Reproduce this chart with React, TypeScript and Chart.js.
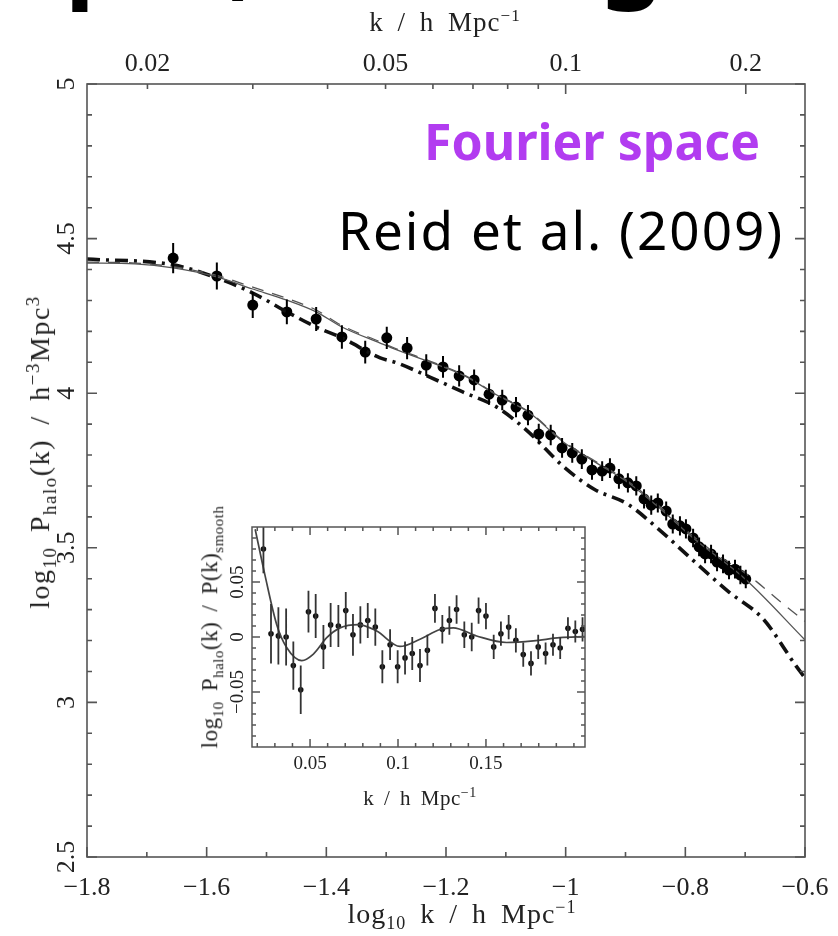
import React, { useEffect, useRef } from 'react';
import { Chart, registerables } from 'chart.js';
Chart.register(...registerables);

// ---------------- main panel data (log10 k, log10 P) ----------------
const mainLogK = [-1.656, -1.583, -1.523, -1.466, -1.417, -1.374, -1.335, -1.299, -1.265, -1.233, -1.205, -1.178, -1.153, -1.128, -1.106, -1.083, -1.063, -1.045, -1.025, -1.006, -0.989, -0.973, -0.956, -0.939, -0.926, -0.911, -0.896, -0.882, -0.869, -0.857, -0.846, -0.832, -0.821, -0.809, -0.799, -0.787, -0.777, -0.767, -0.757, -0.747, -0.737, -0.727, -0.717, -0.708, -0.699];
const mainLogP = [4.437, 4.379, 4.285, 4.263, 4.240, 4.182, 4.133, 4.179, 4.146, 4.091, 4.085, 4.056, 4.043, 3.997, 3.978, 3.955, 3.929, 3.868, 3.865, 3.823, 3.807, 3.787, 3.752, 3.748, 3.758, 3.723, 3.710, 3.700, 3.658, 3.638, 3.645, 3.619, 3.577, 3.571, 3.561, 3.532, 3.503, 3.480, 3.480, 3.454, 3.448, 3.428, 3.431, 3.412, 3.399];
const mainErr = [0.049, 0.044, 0.042, 0.040, 0.039, 0.038, 0.037, 0.036, 0.036, 0.035, 0.035, 0.034, 0.034, 0.034, 0.033, 0.033, 0.033, 0.033, 0.033, 0.032, 0.032, 0.032, 0.032, 0.032, 0.032, 0.032, 0.031, 0.031, 0.031, 0.031, 0.031, 0.031, 0.031, 0.031, 0.031, 0.030, 0.030, 0.030, 0.030, 0.030, 0.030, 0.030, 0.030, 0.030, 0.030];

const solidLogK = [-1.8, -1.72, -1.656, -1.583, -1.523, -1.466, -1.417, -1.374, -1.31, -1.282, -1.227, -1.172, -1.115, -1.06, -1.004, -0.948, -0.897, -0.841, -0.787, -0.7, -0.6];
const solidLogP = [4.421, 4.418, 4.405, 4.376, 4.337, 4.301, 4.263, 4.214, 4.162, 4.140, 4.101, 4.059, 3.994, 3.936, 3.842, 3.774, 3.713, 3.625, 3.532, 3.399, 3.202];

const dashedLogK = [-1.8, -1.72, -1.656, -1.583, -1.523, -1.466, -1.417, -1.374, -1.31, -1.282, -1.227, -1.172, -1.115, -1.06, -1.004, -0.948, -0.897, -0.841, -0.787, -0.75, -0.7, -0.68, -0.642, -0.6];
const dashedLogP = [4.424, 4.421, 4.409, 4.381, 4.343, 4.307, 4.269, 4.219, 4.166, 4.143, 4.104, 4.061, 3.996, 3.938, 3.845, 3.777, 3.717, 3.630, 3.538, 3.482, 3.418, 3.389, 3.327, 3.262];

const dashDotLogK = [-1.8, -1.656, -1.583, -1.523, -1.466, -1.417, -1.374, -1.31, -1.282, -1.227, -1.172, -1.115, -1.06, -1.005, -0.953, -0.897, -0.841, -0.784, -0.727, -0.67, -0.615, -0.6];
const dashDotLogP = [4.434, 4.415, 4.373, 4.324, 4.263, 4.214, 4.179, 4.114, 4.098, 4.052, 4.004, 3.955, 3.871, 3.765, 3.690, 3.642, 3.554, 3.454, 3.357, 3.270, 3.118, 3.079];

// ---------------- inset data (k, ratio) ----------------
const insetK = [0.0235, 0.0278, 0.0320, 0.0364, 0.0405, 0.0447, 0.0491, 0.0532, 0.0576, 0.0617, 0.0661, 0.0703, 0.0744, 0.0786, 0.0828, 0.0871, 0.0911, 0.0955, 0.0998, 0.1040, 0.1081, 0.1125, 0.1167, 0.1210, 0.1252, 0.1292, 0.1333, 0.1377, 0.1419, 0.1458, 0.1500, 0.1544, 0.1585, 0.1629, 0.1670, 0.1712, 0.1756, 0.1797, 0.1839, 0.1881, 0.1922, 0.1966, 0.2008, 0.2049];
const insetRatio = [0.080, 0.003, 0.001, 0.000, -0.026, -0.048, 0.023, 0.019, -0.009, 0.011, 0.010, 0.024, 0.002, 0.011, 0.015, 0.009, -0.027, -0.007, -0.027, -0.019, -0.015, -0.026, -0.012, 0.026, 0.007, 0.015, 0.025, 0.002, 0.000, 0.024, 0.019, -0.009, 0.003, 0.009, -0.003, -0.016, -0.024, -0.009, -0.015, -0.007, -0.010, 0.008, 0.005, 0.007];
const insetErr = [0.022, 0.027, 0.026, 0.026, 0.022, 0.022, 0.019, 0.020, 0.020, 0.020, 0.019, 0.017, 0.019, 0.017, 0.016, 0.017, 0.015, 0.014, 0.015, 0.015, 0.015, 0.015, 0.014, 0.013, 0.013, 0.013, 0.013, 0.012, 0.013, 0.012, 0.012, 0.011, 0.011, 0.011, 0.011, 0.011, 0.011, 0.011, 0.010, 0.010, 0.010, 0.010, 0.010, 0.011];

const insetCurveK = [0.0188, 0.0244, 0.0311, 0.0367, 0.0453, 0.0519, 0.0595, 0.0670, 0.0775, 0.0879, 0.1011, 0.1125, 0.1239, 0.1314, 0.1447, 0.1617, 0.1769, 0.1920, 0.2063];
const insetCurveRatio = [0.098, 0.056, 0.011, -0.0095, -0.0214, -0.0155, -0.0006, 0.0083, 0.0113, 0.0054, -0.0086, -0.002, 0.0068, 0.0083, 0.0009, -0.005, -0.0036, -0.0006, 0.0003];

// ---------------- ticks ----------------
const mainXTicks = [-1.8, -1.6, -1.4, -1.2, -1.0, -0.8, -0.6];
const mainXMinor = [-1.7, -1.5, -1.3, -1.1, -0.9, -0.7];
const mainYTicks = [2.5, 3, 3.5, 4, 4.5, 5];
const mainYMinor = [2.6, 2.7, 2.8, 2.9, 3.1, 3.2, 3.3, 3.4, 3.6, 3.7, 3.8, 3.9, 4.1, 4.2, 4.3, 4.4, 4.6, 4.7, 4.8, 4.9];
const topKLabels = [0.02, 0.05, 0.1, 0.2];
const topKMajor = [0.1, 0.2];
const topKMinor = [0.02, 0.03, 0.04, 0.05, 0.06, 0.07, 0.08, 0.09];

const insetXTicks = [0.05, 0.1, 0.15];
const insetXMinor = [0.02, 0.03, 0.04, 0.06, 0.07, 0.08, 0.09, 0.11, 0.12, 0.13, 0.14, 0.16, 0.17, 0.18, 0.19, 0.2];
const insetYTicks = [-0.05, 0, 0.05];
const insetYMinor = [-0.09, -0.08, -0.07, -0.06, -0.04, -0.03, -0.02, -0.01, 0.01, 0.02, 0.03, 0.04, 0.06, 0.07, 0.08, 0.09];

const SERIF = '"Liberation Serif", "DejaVu Serif", serif';
const INK = '#222';
const minus = (s: string) => s.replace('-', '\u2212');

const pts = (xs: number[], ys: number[]) => xs.map((x, i) => ({ x, y: ys[i] }));

const fixX = (h: number) => (s: any) => { s.height = h; s.paddingLeft = 0; s.paddingRight = 0; };
const fixY = (w: number) => (s: any) => { s.width = w; s.paddingTop = 0; s.paddingBottom = 0; };

function framePlugin(f: any) {
  return {
    id: 'frame',
    afterDraw(chart: any) {
      const { ctx, chartArea: a, scales } = chart;
      const xs = scales.x;
      const ys = scales.y;
      ctx.save();
      ctx.strokeStyle = f.color;
      ctx.lineWidth = f.lineWidth;
      ctx.strokeRect(a.left, a.top, a.right - a.left, a.bottom - a.top);
      ctx.beginPath();
      const bottomTick = (v: number, len: number) => {
        const p = xs.getPixelForValue(v);
        ctx.moveTo(p, a.bottom); ctx.lineTo(p, a.bottom - len);
      };
      const topTick = (v: number, len: number) => {
        const p = xs.getPixelForValue(v);
        ctx.moveTo(p, a.top); ctx.lineTo(p, a.top + len);
      };
      const sideTick = (v: number, len: number) => {
        const p = ys.getPixelForValue(v);
        ctx.moveTo(a.left, p); ctx.lineTo(a.left + len, p);
        ctx.moveTo(a.right, p); ctx.lineTo(a.right - len, p);
      };
      f.xMajor.forEach((v: number) => bottomTick(v, f.majorLen));
      f.xMinor.forEach((v: number) => bottomTick(v, f.minorLen));
      f.topMajor.forEach((v: number) => topTick(v, f.majorLen));
      f.topMinor.forEach((v: number) => topTick(v, f.minorLen));
      f.yMajor.forEach((v: number) => sideTick(v, f.majorLen));
      f.yMinor.forEach((v: number) => sideTick(v, f.minorLen));
      ctx.stroke();
      ctx.fillStyle = INK;
      ctx.font = f.yFont;
      ctx.textAlign = 'center';
      ctx.textBaseline = 'middle';
      f.yMajor.forEach((v: number) => {
        const p = ys.getPixelForValue(v);
        ctx.save();
        ctx.translate(f.yLabelX, p);
        ctx.rotate(-Math.PI / 2);
        ctx.fillText(f.yFmt(v), 0, 0);
        ctx.restore();
      });
      ctx.restore();
    },
  };
}

function errorBarPlugin(xsArr: number[], ysArr: number[], errs: number[], width: number, color: string) {
  return {
    id: 'errbars',
    afterDatasetsDraw(chart: any) {
      const { ctx, chartArea: a, scales } = chart;
      ctx.save();
      ctx.beginPath();
      ctx.rect(a.left, a.top, a.right - a.left, a.bottom - a.top);
      ctx.clip();
      ctx.strokeStyle = color;
      ctx.lineWidth = width;
      ctx.beginPath();
      xsArr.forEach((x, i) => {
        const px = scales.x.getPixelForValue(x);
        ctx.moveTo(px, scales.y.getPixelForValue(ysArr[i] + errs[i]));
        ctx.lineTo(px, scales.y.getPixelForValue(ysArr[i] - errs[i]));
      });
      ctx.stroke();
      ctx.restore();
    },
  };
}

export default function App() {
  const mainRef = useRef<HTMLCanvasElement>(null);
  const insetRef = useRef<HTMLCanvasElement>(null);

  useEffect(() => {
    const main = new Chart(mainRef.current as HTMLCanvasElement, {
      type: 'scatter',
      data: {
        datasets: [
          { type: 'line', data: pts(solidLogK, solidLogP), borderColor: '#555', borderWidth: 1.3, pointRadius: 0, cubicInterpolationMode: 'monotone', fill: false } as any,
          { type: 'line', data: pts(dashedLogK, dashedLogP), borderColor: '#555', borderWidth: 1.3, borderDash: [12, 9], pointRadius: 0, cubicInterpolationMode: 'monotone', fill: false } as any,
          { type: 'line', data: pts(dashDotLogK, dashDotLogP), borderColor: '#111', borderWidth: 3.6, borderDash: [13, 6, 3, 6], pointRadius: 0, cubicInterpolationMode: 'monotone', fill: false } as any,
          { type: 'scatter', data: pts(mainLogK, mainLogP), pointRadius: 5.5, backgroundColor: '#000', borderColor: '#000', borderWidth: 0 } as any,
        ],
      },
      options: {
        responsive: false,
        animation: false,
        layout: { padding: { left: 0, right: 33, top: 0, bottom: 0 } },
        plugins: { legend: { display: false }, tooltip: { enabled: false } },
        scales: {
          x: {
            type: 'linear', position: 'bottom', min: -1.8, max: -0.6,
            afterBuildTicks: (s: any) => { s.ticks = mainXTicks.map((v) => ({ value: v })); },
            afterFit: fixX(79),
            grid: { display: false, drawTicks: false }, border: { display: false },
            ticks: { autoSkip: false, maxRotation: 0, padding: 16, color: INK, font: { family: SERIF, size: 26 }, callback: (v: any) => minus(String(Math.round(v * 10) / 10)) },
          },
          x2: {
            type: 'linear', position: 'top', min: -1.8, max: -0.6,
            afterBuildTicks: (s: any) => { s.ticks = topKLabels.map((k) => ({ value: Math.log10(k) })); },
            afterFit: fixX(84),
            grid: { display: false, drawTicks: false }, border: { display: false },
            ticks: { autoSkip: false, maxRotation: 0, padding: 4, color: INK, font: { family: SERIF, size: 26 }, callback: (v: any) => String(topKLabels.find((k) => Math.abs(Math.log10(k) - v) < 1e-6)) },
          },
          y: {
            type: 'linear', min: 2.5, max: 5,
            afterFit: fixY(87),
            grid: { display: false, drawTicks: false }, border: { display: false },
            ticks: { display: false },
          },
        },
      } as any,
      plugins: [
        framePlugin({
          color: '#555', lineWidth: 1.6, majorLen: 10, minorLen: 5,
          xMajor: mainXTicks, xMinor: mainXMinor,
          topMajor: topKMajor.map((k) => Math.log10(k)), topMinor: topKMinor.map((k) => Math.log10(k)),
          yMajor: mainYTicks, yMinor: mainYMinor,
          yLabelX: 67, yFont: `26px ${SERIF}`, yFmt: (v: number) => String(v),
        }),
        errorBarPlugin(mainLogK, mainLogP, mainErr, 2, '#000'),
      ],
    });

    const inset = new Chart(insetRef.current as HTMLCanvasElement, {
      type: 'scatter',
      data: {
        datasets: [
          { type: 'line', data: pts(insetCurveK, insetCurveRatio), borderColor: '#444', borderWidth: 1.7, pointRadius: 0, cubicInterpolationMode: 'monotone', fill: false } as any,
          { type: 'scatter', data: pts(insetK, insetRatio), pointRadius: 2.8, backgroundColor: '#111', borderWidth: 0 } as any,
        ],
      },
      options: {
        responsive: false,
        animation: false,
        layout: { padding: { left: 0, right: 5, top: 47, bottom: 0 } },
        plugins: { legend: { display: false }, tooltip: { enabled: false } },
        scales: {
          x: {
            type: 'linear', min: 0.017, max: 0.2063,
            afterBuildTicks: (s: any) => { s.ticks = insetXTicks.map((v) => ({ value: v })); },
            afterFit: fixX(93),
            grid: { display: false, drawTicks: false }, border: { display: false },
            ticks: { autoSkip: false, maxRotation: 0, padding: 6, color: INK, font: { family: SERIF, size: 19 }, callback: (v: any) => String(v) },
          },
          y: {
            type: 'linear', min: -0.1, max: 0.1,
            afterFit: fixY(62),
            grid: { display: false, drawTicks: false }, border: { display: false },
            ticks: { display: false },
          },
        },
      } as any,
      plugins: [
        framePlugin({
          color: '#555', lineWidth: 1.5, majorLen: 8, minorLen: 4,
          xMajor: insetXTicks, xMinor: insetXMinor,
          topMajor: insetXTicks, topMinor: insetXMinor,
          yMajor: insetYTicks, yMinor: insetYMinor,
          yLabelX: 48, yFont: `19px ${SERIF}`, yFmt: (v: number) => minus(String(v)),
        }),
        errorBarPlugin(insetK, insetRatio, insetErr, 1.8, '#333'),
      ],
    });

    return () => { main.destroy(); inset.destroy(); };
  }, []);

  const serifText: React.CSSProperties = { position: 'absolute', whiteSpace: 'nowrap', fontFamily: SERIF, color: INK, lineHeight: 1 };
  const sansText: React.CSSProperties = { position: 'absolute', whiteSpace: 'nowrap', fontFamily: '"Noto Sans", "Open Sans", sans-serif', lineHeight: 1 };
  const headText: React.CSSProperties = { ...sansText, top: -101, fontSize: 100, fontWeight: 700, color: '#000' };

  return (
    <div style={{ position: 'absolute', left: 0, top: 0, width: 838, height: 936, overflow: 'hidden', background: '#fff' }}>
      <canvas ref={mainRef} width={838} height={936} style={{ position: 'absolute', left: 0, top: 0, width: 838, height: 936 }} />
      <canvas ref={insetRef} width={400} height={360} style={{ position: 'absolute', left: 190, top: 480, width: 400, height: 360 }} />

      {/* bottom edge of the slide heading, cut off by the picture */}
      <span style={{ ...headText, left: 65 }}>p</span>
      <span style={{ ...headText, left: 229 }}>,</span>
      <span style={{ ...headText, left: 600 }}>g</span>
      <span style={{ ...headText, left: 700 }}>.</span>

      <div style={{ ...serifText, left: 445, top: 21, fontSize: 27, transform: 'translate(-50%,-50%)', wordSpacing: 6, letterSpacing: 1 }}>
        k / h Mpc<sup style={{ fontSize: 17 }}>−1</sup>
      </div>
      <div style={{ ...serifText, left: 462, top: 915, fontSize: 28, transform: 'translate(-50%,-50%)', wordSpacing: 6, letterSpacing: 1 }}>
        log<sub style={{ fontSize: 18 }}>10</sub> k / h Mpc<sup style={{ fontSize: 18 }}>−1</sup>
      </div>
      <div style={{ ...serifText, left: 41, top: 452, fontSize: 28, transform: 'translate(-50%,-50%) rotate(-90deg)', wordSpacing: 6, letterSpacing: 1.5 }}>
        log<sub style={{ fontSize: 19 }}>10</sub> P<sub style={{ fontSize: 19 }}>halo</sub>(k) / h<sup style={{ fontSize: 19 }}>−3</sup>Mpc<sup style={{ fontSize: 19 }}>3</sup>
      </div>
      <div style={{ ...serifText, left: 420, top: 797, fontSize: 21, transform: 'translate(-50%,-50%)', wordSpacing: 4, letterSpacing: 0.5 }}>
        k / h Mpc<sup style={{ fontSize: 14 }}>−1</sup>
      </div>
      <div style={{ ...serifText, left: 212, top: 627, fontSize: 23, transform: 'translate(-50%,-50%) rotate(-90deg)', wordSpacing: 4, letterSpacing: 0.5 }}>
        log<sub style={{ fontSize: 15 }}>10</sub> P<sub style={{ fontSize: 15 }}>halo</sub>(k) / P(k)<sub style={{ fontSize: 15 }}>smooth</sub>
      </div>

      <div style={{ ...sansText, right: 838 - 760, top: 116, fontSize: 50, fontWeight: 700, color: '#B23CF0', letterSpacing: 0 }}>Fourier space</div>
      <div style={{ ...sansText, left: 338, top: 203, fontSize: 53, color: '#000', letterSpacing: 2 }}>Reid et al. (2009)</div>
    </div>
  );
}
